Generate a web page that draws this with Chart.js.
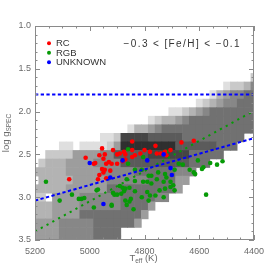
<!DOCTYPE html>
<html>
<head>
<meta charset="utf-8">
<script src="https://cdn.jsdelivr.net/npm/chart.js@4.4.1/dist/chart.umd.min.js"></script>
<style>
  html, body { margin: 0; padding: 0; background: #fff; }
</style>
</head>
<body>
<canvas id="myChart" width="275" height="275"></canvas>
<script>
// density grid (background), bin centres
const tempCenters = [5200, 5175, 5150, 5125, 5100, 5075, 5050, 5025, 5000, 4975, 4950,
  4925, 4900, 4875, 4850, 4825, 4800, 4775, 4750, 4725, 4700, 4675, 4650, 4625, 4600,
  4575, 4550, 4525, 4500, 4475, 4450, 4425, 4400];
const loggCenters = [1.6, 1.7, 1.8, 1.9, 2.0, 2.1, 2.2, 2.3, 2.4, 2.5, 2.6, 2.7, 2.8,
  2.9, 3.0, 3.1, 3.2, 3.3, 3.4, 3.5];
const cellW = 25;
const cellH = 0.1;
// one string per logg row, one digit per Teff column (0 = empty, 9 = densest)
const density = [
  '000000000000000000000000000000002',
  '000000000000000000000000000012235',
  '000000000000000000000000001345566',
  '000000000000000000000000123455666',
  '000000000000000000001123456666666',
  '000000000000000001233456666666666',
  '000000000000001334566666666666666',
  '000000000011288887777766666666600',
  '000011011112499999999777777666000',
  '002222444455777778888886666600000',
  '023334444555577777777776660000000',
  '333334444455555666666555000000000',
  '033333444445555556666440000000000',
  '333334444446666666666400000000000',
  '220444455555566666550000000000000',
  '333444455555566664000000000000000',
  '333444466666666640000000000000000',
  '444455555666666400000000000000000',
  '444455555666600000000000000000000',
  '444455555666600000000000000000000'
];

// stars
const rcTeff = [5015, 4965, 4985, 4950, 4945, 4940, 4930, 4920, 4900, 4900, 4890, 4875,
  4870, 4845, 4835, 4845, 4880, 4870, 4815, 4955, 4945, 4965, 4950, 4970, 4940, 5075,
  4780, 4755, 4725, 4720, 4705, 4665, 4620, 4800, 4845, 4955, 4740, 4915, 4980, 4925, 4760];
const rcLogg = [2.54, 2.51, 2.61, 2.55, 2.50, 2.61, 2.59, 2.61, 2.61, 2.50, 2.49, 2.47,
  2.50, 2.45, 2.51, 2.53, 2.58, 2.56, 2.49, 2.67, 2.68, 2.74, 2.71, 2.79, 2.78, 2.79,
  2.47, 2.49, 2.47, 2.51, 2.45, 2.36, 2.34, 2.45, 2.35, 2.43, 2.49, 2.45, 2.60, 2.69, 2.40];

const rgbTeff = [5160, 5110, 5065, 5040, 5030, 5020, 4985, 4975, 4920, 4915, 4910, 4885,
  4875, 4880, 4870, 4855, 4865, 4835, 4805, 4860, 4835, 4810, 4835, 4850, 4855, 4870,
  4840, 4810, 4860, 4805, 4785, 4775, 4750, 4725, 4720, 4730, 4705, 4695, 4705, 4725,
  4745, 4760, 4780, 4730, 4785, 4790, 4775, 4790, 4755, 4675, 4660, 4635, 4620, 4615,
  4605, 4585, 4590, 4560, 4535, 4515, 4575, 4690, 4720, 4690, 4890, 4900, 4920, 4865, 4970];
const rgbLogg = [2.82, 3.04, 2.97, 3.02, 3.02, 3.01, 3.12, 2.92, 3.10, 2.95, 2.97, 2.96,
  2.93, 2.89, 2.90, 2.89, 2.79, 2.81, 2.82, 2.61, 2.68, 2.68, 2.93, 3.02, 3.05, 3.04,
  3.14, 3.00, 2.44, 2.53, 2.75, 2.75, 2.71, 2.73, 2.77, 2.82, 2.82, 2.86, 2.88, 2.90,
  2.92, 2.98, 2.98, 3.00, 3.04, 2.94, 2.84, 2.82, 2.79, 2.61, 2.62, 2.68, 2.71, 2.73,
  2.57, 2.65, 2.67, 2.60, 2.62, 2.58, 2.97, 2.92, 2.47, 2.68, 2.87, 2.97, 3.09, 3.09, 2.91];

const unkTeff = [5000, 4880, 4925, 4950, 4790, 4730, 4705, 4700];
const unkLogg = [2.60, 2.57, 2.77, 3.08, 2.57, 2.50, 2.66, 2.74];

// dotted reference lines (end points)
const cutFlatTeff = [5200, 4400];
const cutFlatLogg = [1.8, 1.8];
const cutBlueTeff = [5200, 4400];
const cutBlueLogg = [3.04, 2.31];
const cutGreenTeff = [5200, 4400];
const cutGreenLogg = [3.40, 1.99];

const xTickValues = [5200, 5000, 4800, 4600, 4400];
const yTickValues = [1.0, 1.5, 2.0, 2.5, 3.0, 3.5];

const legendNames = ['RC', 'RGB', 'UNKNOWN'];
const legendColors = ['#ff0000', '#069a06', '#0000ff'];
const titleText = '\u22120.3 < [Fe/H] < \u22120.1';

const FONT = "'Liberation Sans', Arial, sans-serif";
Chart.defaults.font.family = FONT;

function pts(xs, ys) {
  return xs.map((x, i) => ({ x: x, y: ys[i] }));
}

const heatPlugin = {
  id: 'heat',
  beforeDatasetsDraw(chart) {
    const { ctx, chartArea: a, scales } = chart;
    ctx.save();
    ctx.beginPath();
    ctx.rect(a.left, a.top, a.right - a.left, a.bottom - a.top);
    ctx.clip();
    density.forEach((row, i) => {
      row.split('').map(Number).forEach((v, j) => {
        if (!v) return;
        const x0 = scales.x.getPixelForValue(tempCenters[j] + cellW / 2);
        const x1 = scales.x.getPixelForValue(tempCenters[j] - cellW / 2);
        const y0 = scales.y.getPixelForValue(loggCenters[i] - cellH / 2);
        const y1 = scales.y.getPixelForValue(loggCenters[i] + cellH / 2);
        const g = 245 - 22 * v;
        ctx.fillStyle = `rgb(${g},${g},${g})`;
        ctx.fillRect(Math.min(x0, x1), Math.min(y0, y1), Math.abs(x1 - x0) + 0.6, Math.abs(y1 - y0) + 0.6);
      });
    });
    ctx.restore();
  }
};

const frameAndText = {
  id: 'frameAndText',
  afterDraw(chart) {
    const { ctx, chartArea: a, scales } = chart;
    ctx.save();
    // box and inward ticks
    ctx.strokeStyle = '#8a8a8a';
    ctx.lineWidth = 1;
    ctx.strokeRect(a.left + 0.5, a.top + 0.5, a.right - a.left - 1, a.bottom - a.top - 1);
    ctx.beginPath();
    for (let t = 4400; t <= 5200; t += 50) {
      const x = Math.round(scales.x.getPixelForValue(t)) + 0.5;
      const len = t % 200 === 0 ? 5 : 2.5;
      ctx.moveTo(x, a.bottom); ctx.lineTo(x, a.bottom - len);
      ctx.moveTo(x, a.top); ctx.lineTo(x, a.top + len);
    }
    for (let k = 10; k <= 35; k++) {
      const y = Math.round(scales.y.getPixelForValue(k / 10)) + 0.5;
      const len = k % 5 === 0 ? 5 : 2.5;
      ctx.moveTo(a.left, y); ctx.lineTo(a.left + len, y);
      ctx.moveTo(a.right, y); ctx.lineTo(a.right - len, y);
    }
    ctx.stroke();

    // legend
    ctx.font = '9.5px ' + FONT;
    ctx.textBaseline = 'middle';
    legendNames.forEach((name, i) => {
      const y = a.top + 17.3 + i * 9.5;
      ctx.fillStyle = legendColors[i];
      ctx.beginPath();
      ctx.arc(a.left + 14, y, 2, 0, Math.PI * 2);
      ctx.fill();
      ctx.fillStyle = '#333';
      ctx.fillText(name, a.left + 21, y + 0.5);
    });

    // metallicity label
    ctx.font = '10px ' + FONT;
    ctx.letterSpacing = '1.4px';
    ctx.textBaseline = 'alphabetic';
    ctx.textAlign = 'right';
    ctx.fillStyle = '#333';
    ctx.fillText(titleText, a.right - 13, 46.5);
    ctx.letterSpacing = '0px';
    ctx.textAlign = 'left';

    // axis titles with subscripts
    ctx.fillStyle = '#6a6a6a';
    const big = '9.5px ' + FONT, small = '6.5px ' + FONT;
    ctx.font = big; const wT = ctx.measureText('T').width;
    const wK = ctx.measureText(' (K)').width;
    ctx.font = small; const wE = ctx.measureText('eff').width;
    let x = (a.left + a.right) / 2 - 1 - (wT + wE + wK) / 2;
    const by = 261;
    ctx.font = big; ctx.fillText('T', x, by); x += wT;
    ctx.font = small; ctx.fillText('eff', x, by + 2); x += wE;
    ctx.font = big; ctx.fillText(' (K)', x, by);

    ctx.save();
    ctx.translate(9, (a.top + a.bottom) / 2);
    ctx.rotate(-Math.PI / 2);
    ctx.font = big; const wL = ctx.measureText('log g').width;
    ctx.font = small; const wS = ctx.measureText('SPEC').width;
    let s = -(wL + wS) / 2;
    ctx.font = big; ctx.fillText('log g', s, 0);
    ctx.font = small; ctx.fillText('SPEC', s + wL, 2);
    ctx.restore();

    ctx.restore();
  }
};

const dotted = (data, color, dash) => ({
  data: data,
  showLine: true,
  borderColor: color,
  borderWidth: 2,
  borderDash: dash,
  pointRadius: 0,
  fill: false,
  order: 0
});
const stars = (data, color) => ({
  data: data,
  backgroundColor: color,
  borderWidth: 0,
  pointRadius: 2.3,
  order: 1
});

new Chart(document.getElementById('myChart').getContext('2d'), {
  type: 'scatter',
  data: {
    datasets: [
      dotted(pts(cutFlatTeff, cutFlatLogg), '#0000ff', [3.3, 2.4]),
      dotted(pts(cutBlueTeff, cutBlueLogg), '#0000ff', [3.3, 2.4]),
      dotted(pts(cutGreenTeff, cutGreenLogg), '#069a06', [2.2, 4.4]),
      stars(pts(unkTeff, unkLogg), legendColors[2]),
      stars(pts(rcTeff, rcLogg), legendColors[0]),
      stars(pts(rgbTeff, rgbLogg), legendColors[1])
    ]
  },
  options: {
    responsive: false,
    animation: false,
    layout: { padding: { top: 26, right: 21, left: 0, bottom: 0 } },
    plugins: { legend: { display: false }, tooltip: { enabled: false } },
    scales: {
      x: {
        type: 'linear', min: 4400, max: 5200, reverse: true,
        afterBuildTicks: s => { s.ticks = xTickValues.map(v => ({ value: v })); },
        afterFit: s => { s.height = 35; },
        ticks: { font: { size: 9 }, color: '#6a6a6a', padding: 6, maxRotation: 0, callback: v => String(v) },
        grid: { display: false, drawTicks: false },
        border: { display: false }
      },
      y: {
        type: 'linear', min: 1.0, max: 3.5, reverse: true,
        afterBuildTicks: s => { s.ticks = yTickValues.map(v => ({ value: v })); },
        afterFit: s => { s.width = 35; },
        ticks: { font: { size: 9 }, color: '#6a6a6a', padding: 4, callback: v => v.toFixed(1) },
        grid: { display: false, drawTicks: false },
        border: { display: false }
      }
    }
  },
  plugins: [heatPlugin, frameAndText]
});
</script>
</body>
</html>
